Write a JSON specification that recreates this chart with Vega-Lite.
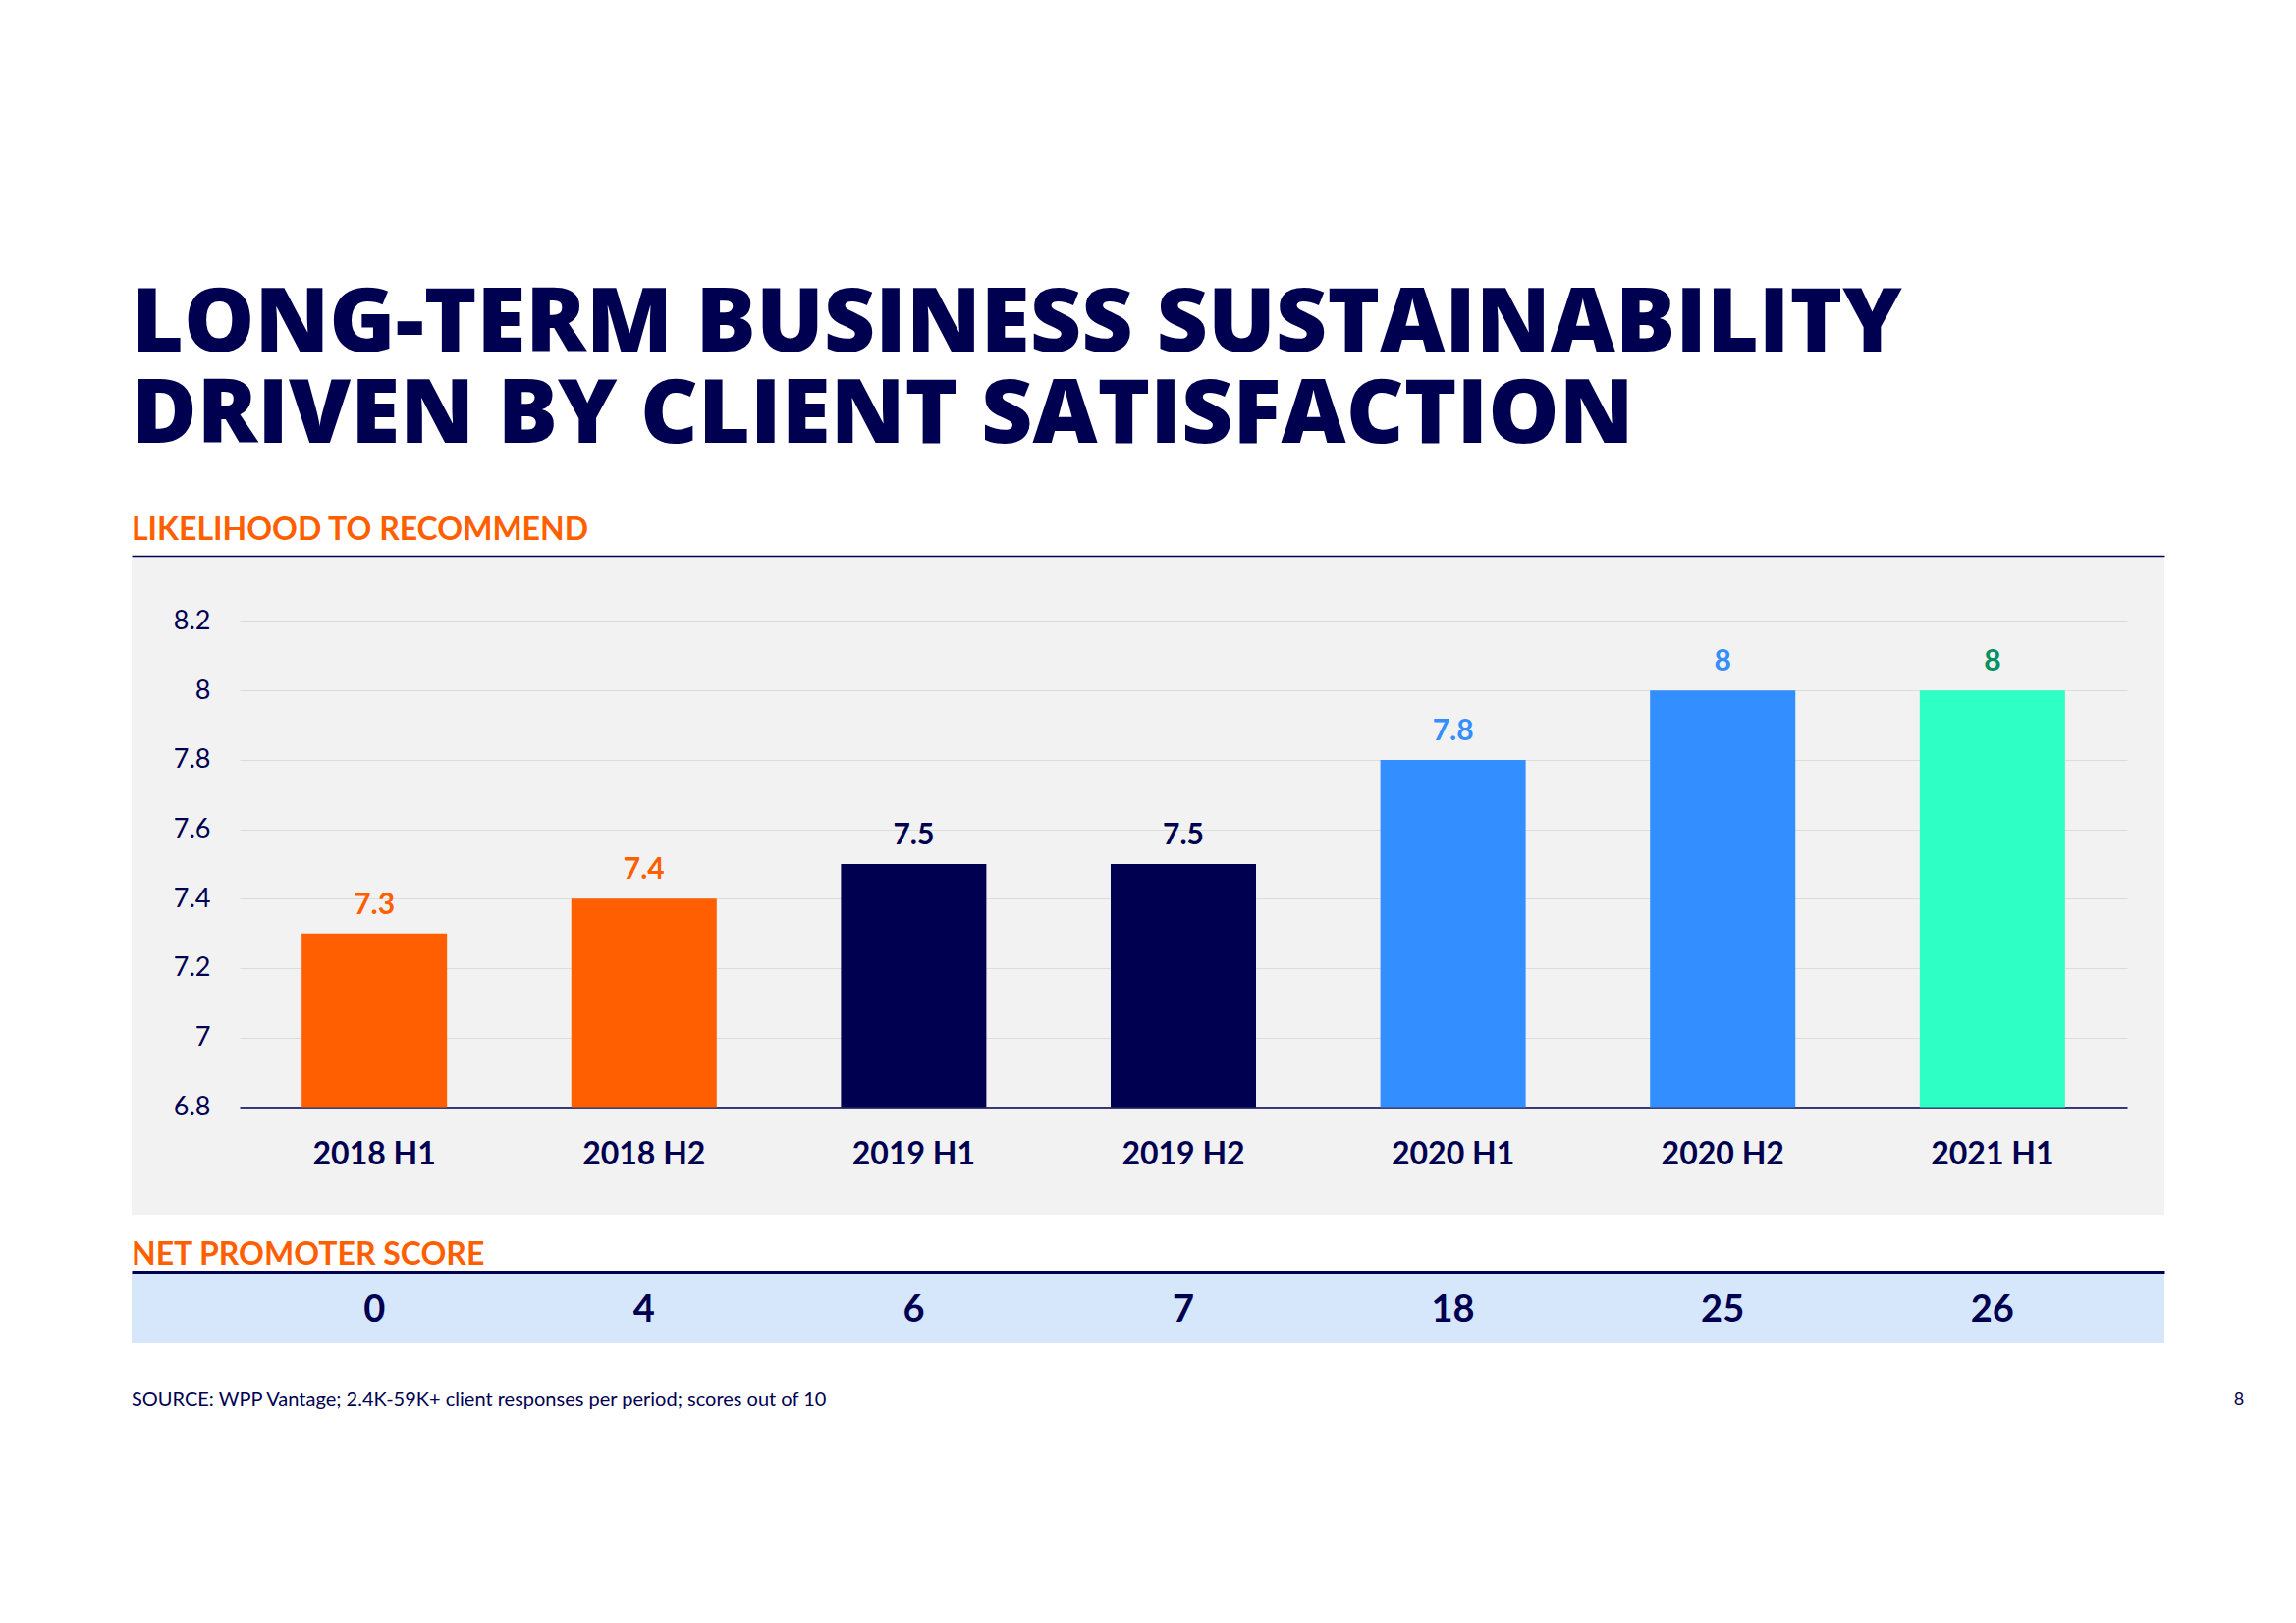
{
  "$schema": "https://vega.github.io/schema/vega-lite/v6.json",
  "background": "white",
  "padding": {"left": 134, "top": 285, "right": 20, "bottom": 30},
  "config": {"font": "Lato", "view": {"stroke": null}, "concat": {"spacing": 25}},
  "title": {
    "text": ["LONG-TERM BUSINESS SUSTAINABILITY", "DRIVEN BY CLIENT SATISFACTION"],
    "subtitle": "LIKELIHOOD TO RECOMMEND",
    "anchor": "start",
    "frame": "group",
    "font": "Open Sans",
    "fontSize": 91,
    "fontWeight": 800,
    "color": "#000050",
    "lineHeight": 93,
    "subtitleFont": "Lato",
    "subtitleFontSize": 32,
    "subtitleFontWeight": 700,
    "subtitleColor": "#FF5F00",
    "subtitlePadding": 55,
    "offset": 9
  },
  "datasets": {
    "scores": [
      {"period": "2018 H1", "year": "2018", "score": 7.3, "nps": 0},
      {"period": "2018 H2", "year": "2018", "score": 7.4, "nps": 4},
      {"period": "2019 H1", "year": "2019", "score": 7.5, "nps": 6},
      {"period": "2019 H2", "year": "2019", "score": 7.5, "nps": 7},
      {"period": "2020 H1", "year": "2020", "score": 7.8, "nps": 18},
      {"period": "2020 H2", "year": "2020", "score": 8.0, "nps": 25},
      {"period": "2021 H1", "year": "2021", "score": 8.0, "nps": 26}
    ]
  },
  "vconcat": [
    {
      "width": 2070,
      "height": 671,
      "data": {"name": "scores"},
      "view": {"fill": "#F2F2F2", "stroke": null},
      "layer": [
        {
          "layer": [
            {
              "mark": {"type": "bar"},
              "encoding": {
                "x": {
                  "field": "period", "type": "nominal", "sort": null,
                  "scale": {"range": [110, 2032], "paddingInner": 0.461, "paddingOuter": 0.23},
                  "axis": {"orient": "bottom", "offset": -109.5, "title": null, "labelAngle": 0, "ticks": false,
                    "domainColor": "#000050", "domainWidth": 1.5, "labelFontSize": 32, "labelFontWeight": 700,
                    "labelColor": "#000050", "labelPadding": 33, "grid": false}
                },
                "y": {
                  "field": "score", "type": "quantitative",
                  "scale": {"domain": [6.49, 8.388], "nice": false, "zero": false},
                  "axis": {"values": [6.8, 7, 7.2, 7.4, 7.6, 7.8, 8, 8.2], "format": "~g", "title": null,
                    "domain": false, "ticks": false, "grid": true, "gridColor": "#DCDCDC", "gridWidth": 1,
                    "labelFontSize": 27, "labelColor": "#000050", "labelPadding": -80}
                },
                "y2": {"datum": 6.8},
                "color": {
                  "field": "year", "type": "nominal",
                  "scale": {"domain": ["2018", "2019", "2020", "2021"], "range": ["#FF5F00", "#000050", "#338EFF", "#2EFFC4"]},
                  "legend": null
                }
              }
            },
            {
              "mark": {"type": "text", "dy": -20, "baseline": "alphabetic", "fontSize": 30, "fontWeight": 700},
              "encoding": {
                "x": {"field": "period", "type": "nominal", "sort": null},
                "y": {"field": "score", "type": "quantitative"},
                "text": {"field": "score", "type": "quantitative", "format": "~g"},
                "color": {
                  "field": "year", "type": "nominal",
                  "scale": {"domain": ["2018", "2019", "2020", "2021"], "range": ["#FF5F00", "#000050", "#338EFF", "#0A8F5F"]},
                  "legend": null
                }
              }
            }
          ],
          "resolve": {"scale": {"color": "independent"}}
        },
        {
          "mark": {"type": "text", "text": ""},
          "encoding": {
            "x": {"field": "period", "type": "nominal", "sort": null,
              "axis": {"orient": "top", "labels": false, "ticks": false, "title": null,
                "domainColor": "#000050", "domainWidth": 1.5, "grid": false}}
          }
        }
      ],
      "resolve": {"scale": {"x": "independent", "color": "independent"}, "axis": {"x": "independent"}}
    },
    {
      "width": 2070,
      "height": 72,
      "data": {"name": "scores"},
      "view": {"fill": "#D6E7FC", "stroke": null},
      "title": {"text": "NET PROMOTER SCORE", "anchor": "start", "color": "#FF5F00", "fontSize": 32, "fontWeight": 700, "offset": 1},
      "layer": [
        {
          "mark": {"type": "text", "fontSize": 38, "fontWeight": 700, "color": "#000050", "baseline": "middle", "dy": 3},
          "encoding": {
            "x": {"field": "period", "type": "nominal", "sort": null,
              "scale": {"range": [110, 2032], "paddingInner": 0.461, "paddingOuter": 0.23}, "axis": null},
            "text": {"field": "nps", "type": "quantitative"}
          }
        },
        {
          "mark": {"type": "text", "text": ""},
          "encoding": {
            "x": {"field": "period", "type": "nominal", "sort": null,
              "axis": {"orient": "top", "labels": false, "ticks": false, "title": null,
                "domainColor": "#000050", "domainWidth": 3, "grid": false}}
          }
        }
      ],
      "resolve": {"scale": {"x": "independent"}, "axis": {"x": "independent"}}
    },
    {
      "width": 2070,
      "height": 66,
      "data": {"values": [
        {"part": "source", "note": "SOURCE: WPP Vantage; 2.4K-59K+ client responses per period; scores out of 10"},
        {"part": "page", "note": "8"}
      ]},
      "layer": [
        {
          "transform": [{"filter": "datum.part == 'source'"}],
          "mark": {"type": "text", "align": "left", "baseline": "middle", "fontSize": 20, "color": "#000050"},
          "encoding": {
            "x": {"field": "part", "type": "nominal", "scale": {"type": "point", "domain": ["source", "page"], "range": [0, 2146], "padding": 0}, "axis": null},
            "text": {"field": "note", "type": "nominal"}
          }
        },
        {
          "transform": [{"filter": "datum.part == 'page'"}],
          "mark": {"type": "text", "align": "center", "baseline": "middle", "fontSize": 18, "color": "#000050"},
          "encoding": {
            "x": {"field": "part", "type": "nominal"},
            "text": {"field": "note", "type": "nominal"}
          }
        }
      ]
    }
  ],
  "resolve": {"scale": {"x": "independent", "color": "independent"}}
}
